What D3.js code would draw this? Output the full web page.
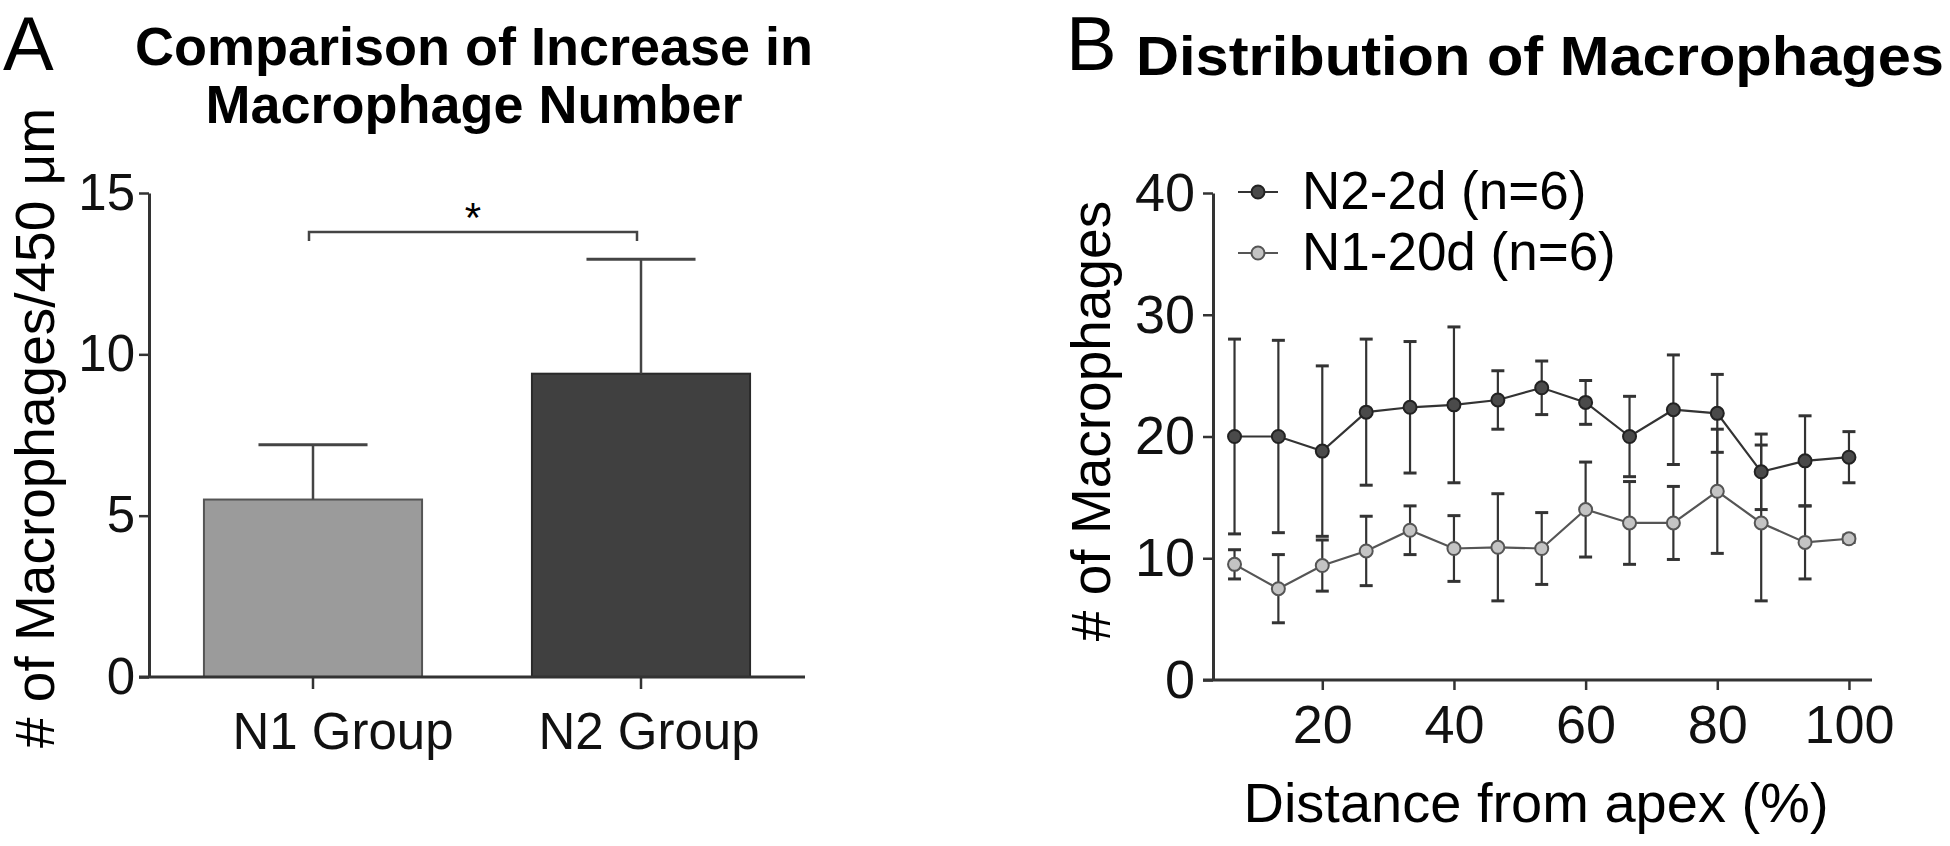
<!DOCTYPE html>
<html>
<head>
<meta charset="utf-8">
<script src="https://cdn.jsdelivr.net/npm/d3@7"></script>
<style>
  html, body { margin: 0; padding: 0; background: #fff; }
  svg { display: block; font-family: "Liberation Sans", Arial, Helvetica, sans-serif; }
</style>
</head>
<body>
<svg id="chart" width="1950" height="846"></svg>
<script>
// ---------- Panel A data ----------
const barCategories = ["N1 Group", "N2 Group"];
const barMeans = [5.5, 9.4];
const barSD = [1.7, 3.55];
const barYTicks = [0, 5, 10, 15];

// ---------- Panel B data ----------
const distX = [6.67, 13.33, 20, 26.67, 33.33, 40, 46.67, 53.33, 60, 66.67, 73.33, 80, 86.67, 93.33, 100];
const n2Means = [20, 20, 18.8, 22, 22.4, 22.6, 23, 24, 22.8, 20, 22.2, 21.9, 17.1, 18, 18.3];
const n2SD = [8, 7.9, 7, 6, 5.4, 6.4, 2.4, 2.2, 1.8, 3.3, 4.5, 3.2, 3.1, 3.7, 2.1];
const n1Means = [9.5, 7.5, 9.4, 10.6, 12.3, 10.8, 10.9, 10.8, 14.0, 12.9, 12.9, 15.5, 12.9, 11.3, 11.6];
const n1SD = [1.2, 2.8, 2.1, 2.85, 2.0, 2.7, 4.4, 2.95, 3.9, 3.4, 3.0, 5.1, 6.4, 3.0, 0.3];
const distYTicks = [0, 10, 20, 30, 40];
const distXTicks = [20, 40, 60, 80, 100];
const seriesNames = ["N2-2d (n=6)", "N1-20d (n=6)"];

const svg = d3.select("#chart");
const AX = "#333";

// ================= PANEL A =================
const gA = svg.append("g");
const yA = d3.scaleLinear().domain([0, 15]).range([677, 193]);
const xA = d3.scaleBand().domain(barCategories).range([149, 805]).paddingInner(0.335).paddingOuter(0.1675);

gA.append("text").attr("x", 3).attr("y", 70).attr("font-size", 76).text("A");
gA.append("text").attr("x", 474).attr("y", 65).attr("text-anchor", "middle")
  .attr("font-size", 54).attr("font-weight", "bold").text("Comparison of Increase in");
gA.append("text").attr("x", 474).attr("y", 123).attr("text-anchor", "middle")
  .attr("font-size", 54).attr("font-weight", "bold").text("Macrophage Number");

// bars
const barData = barCategories.map((c, i) => ({c, m: barMeans[i], sd: barSD[i], i}));
gA.selectAll("rect.bar").data(barData).join("rect")
  .attr("x", d => xA(d.c)).attr("width", xA.bandwidth())
  .attr("y", d => yA(d.m)).attr("height", d => yA(0) - yA(d.m))
  .attr("fill", d => d.i === 0 ? "#9b9b9b" : "#404040")
  .attr("stroke", d => d.i === 0 ? "#555" : "#2a2a2a").attr("stroke-width", 2);

// error bars (upper only)
const capA = xA.bandwidth() / 4;
barData.forEach(d => {
  const cx = xA(d.c) + xA.bandwidth() / 2;
  gA.append("line").attr("x1", cx).attr("x2", cx).attr("y1", yA(d.m)).attr("y2", yA(d.m + d.sd))
    .attr("stroke", "#444").attr("stroke-width", 2.5);
  gA.append("line").attr("x1", cx - capA).attr("x2", cx + capA).attr("y1", yA(d.m + d.sd)).attr("y2", yA(d.m + d.sd))
    .attr("stroke", "#444").attr("stroke-width", 3);
});

// axes
const yAxisA = d3.axisLeft(yA).tickValues(barYTicks).tickSize(10).tickSizeOuter(0).tickPadding(4);
const gyA = gA.append("g").attr("transform", "translate(149,0)").call(yAxisA);
const xAxisA = d3.axisBottom(xA).tickSize(12).tickSizeOuter(0).tickPadding(24);
const gxA = gA.append("g").attr("transform", "translate(0,677)").call(xAxisA);
gxA.select(".domain").attr("d", "M139,0H805");
[gyA, gxA].forEach(g => {
  g.select(".domain").attr("stroke", AX).attr("stroke-width", 3);
  g.selectAll(".tick line").attr("stroke", AX).attr("stroke-width", 2.5);
  g.selectAll(".tick text").attr("fill", "#111").attr("font-size", 51).attr("font-family", "Liberation Sans, Arial, sans-serif");
});
gxA.selectAll(".tick text").attr("dx", (d, i) => i === 0 ? 30 : 8);

// significance bracket
const b1 = xA("N1 Group") + xA.bandwidth() / 2, b2 = xA("N2 Group") + xA.bandwidth() / 2;
const bY = 232;
gA.append("path").attr("d", `M${b1 - 4},${bY + 9}V${bY}H${b2 - 4}V${bY + 9}`)
  .attr("fill", "none").attr("stroke", "#444").attr("stroke-width", 2.5);
gA.append("text").attr("x", (b1 + b2) / 2 - 4).attr("y", 232).attr("text-anchor", "middle")
  .attr("font-size", 42).text("*");

// y label
gA.append("text").attr("transform", "translate(54,428) rotate(-90)").attr("text-anchor", "middle")
  .attr("font-size", 55).text("# of Macrophages/450 \u03bcm");

// ================= PANEL B =================
const gB = svg.append("g");
const yB = d3.scaleLinear().domain([0, 40]).range([680, 193]);
const xB = d3.scaleLinear().domain([3.4, 103.5]).range([1213, 1872]);

gB.append("text").attr("x", 1066).attr("y", 70).attr("font-size", 76).text("B");
gB.append("text").attr("x", 1136).attr("y", 75).attr("font-size", 56).attr("font-weight", "bold")
  .attr("textLength", 808).attr("lengthAdjust", "spacingAndGlyphs")
  .text("Distribution of Macrophages");

const series = [
  {name: seriesNames[0], means: n2Means, sd: n2SD, fill: "#4a4a4a", stroke: "#222", line: "#333"},
  {name: seriesNames[1], means: n1Means, sd: n1SD, fill: "#c4c4c4", stroke: "#555", line: "#555"}
];
const capB = 6.5;
series.forEach(s => {
  const pts = distX.map((x, i) => ({x, m: s.means[i], sd: s.sd[i]}));
  const eg = gB.append("g").attr("stroke", "#333").attr("stroke-width", 2.2);
  pts.forEach(p => {
    const cx = xB(p.x);
    eg.append("line").attr("x1", cx).attr("x2", cx).attr("y1", yB(p.m - p.sd)).attr("y2", yB(p.m + p.sd));
    eg.append("line").attr("x1", cx - capB).attr("x2", cx + capB).attr("y1", yB(p.m + p.sd)).attr("y2", yB(p.m + p.sd)).attr("stroke-width", 3);
    eg.append("line").attr("x1", cx - capB).attr("x2", cx + capB).attr("y1", yB(p.m - p.sd)).attr("y2", yB(p.m - p.sd)).attr("stroke-width", 3);
  });
  s.pts = pts;
});
series.forEach(s => {
  gB.append("path").datum(s.pts)
    .attr("d", d3.line().x(p => xB(p.x)).y(p => yB(p.m)))
    .attr("fill", "none").attr("stroke", s.line).attr("stroke-width", 2.2);
  gB.selectAll(null).data(s.pts).join("circle")
    .attr("cx", p => xB(p.x)).attr("cy", p => yB(p.m)).attr("r", 6.5)
    .attr("fill", s.fill).attr("stroke", s.stroke).attr("stroke-width", 2);
});

// axes B
const yAxisB = d3.axisLeft(yB).tickValues(distYTicks).tickSize(10).tickSizeOuter(0).tickPadding(8);
const gyB = gB.append("g").attr("transform", "translate(1213,0)").call(yAxisB);
const xAxisB = d3.axisBottom(xB).tickValues(distXTicks).tickSize(10).tickSizeOuter(0).tickPadding(15);
const gxB = gB.append("g").attr("transform", "translate(0,680)").call(xAxisB);
gxB.select(".domain").attr("d", "M1203,0H1872");
[gyB, gxB].forEach(g => {
  g.select(".domain").attr("stroke", AX).attr("stroke-width", 3);
  g.selectAll(".tick line").attr("stroke", AX).attr("stroke-width", 2.5);
  g.selectAll(".tick text").attr("fill", "#111").attr("font-size", 54).attr("font-family", "Liberation Sans, Arial, sans-serif");
});

// y label B
gB.append("text").attr("transform", "translate(1110,421) rotate(-90)").attr("text-anchor", "middle")
  .attr("font-size", 55).text("# of Macrophages");
// x label B
gB.append("text").attr("x", 1536).attr("y", 822).attr("text-anchor", "middle")
  .attr("font-size", 56).text("Distance from apex (%)");

// legend
const legY = [192, 253];
series.forEach((s, i) => {
  const lg = gB.append("g").attr("transform", `translate(1258,${legY[i]})`);
  lg.append("line").attr("x1", -20).attr("x2", 20).attr("stroke", s.line).attr("stroke-width", 2.2);
  lg.append("circle").attr("r", 6.5).attr("fill", s.fill).attr("stroke", s.stroke).attr("stroke-width", 2);
  lg.append("text").attr("x", 44).attr("y", 17).attr("font-size", 53).text(s.name);
});
</script>
</body>
</html>
